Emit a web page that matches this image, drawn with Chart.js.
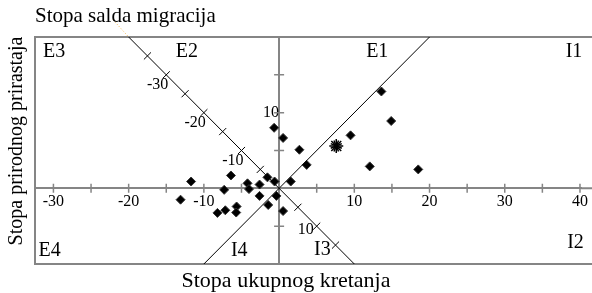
<!DOCTYPE html>
<html lang="sr">
<head>
  <meta charset="UTF-8">
  <title>Stopa salda migracija</title>
  <script src="https://cdn.jsdelivr.net/npm/chart.js"></script>
  <style>
    html, body { margin: 0; padding: 0; background: #fff; }
    #wrap { width: 592px; height: 293px; }
  </style>
</head>
<body>
  <div id="wrap"><canvas id="chart" width="592" height="293"></canvas></div>

  <script>
    // naslovi osa
    const topTitle = 'Stopa salda migracija';
    const yTitle = 'Stopa prirodnog prirastaja';
    const xTitle = 'Stopa ukupnog kretanja';

    // opstine (tacke)
    const ptX = [-0.66, 0.53, 2.7, 3.67, 1.55, -0.6, -1.55, -2.6, -4.2, -4.0, -6.4, -7.3, -11.7, -13.1,
                 -2.6, -0.36, -1.45, 0.53, -5.65, -5.7, -7.15, -8.2, 13.6, 14.9, 9.5, 12.05, 18.5];
    const ptY = [8.0, 6.66, 5.1, 3.1, 0.9, 0.9, 1.45, 0.5, 0.66, -0.1, 1.7, -0.2, 0.9, -1.5,
                 -1.0, -1.0, -2.2, -3.0, -2.4, -3.2, -2.9, -3.25, 12.8, 8.9, 7.0, 2.9, 2.5];
    // prosek (zvezdica)
    const starX = [7.6];
    const starY = [5.6];

    // tick labele
    const xTickLabels = [-30, -20, -10, 10, 20, 30, 40];
    const yTickLabels = [10];
    // skala ukupnog kretanja na dijagonali (x - y)
    const diagTicks = [-35, -30, -25, -20, -15, -10, -5, 5, 10, 15];
    const diagLabels = [-30, -20, -10, 10];

    // tipovi (zone)
    const zoneNames = ['E3', 'E2', 'E1', 'I1', 'E4', 'I4', 'I3', 'I2'];
    const zoneX = [-29.9, -12.25, 13.05, 39.2, -30.5, -5.3, 5.76, 39.4];
    const zoneY = [18.0, 18.0, 18.0, 18.0, -8.2, -8.2, -8.1, -7.24];

    const serif = '"Liberation Serif", "Times New Roman", serif';

    const pts = ptX.map((x, i) => ({ x, y: ptY[i] }));
    const star = starX.map((x, i) => ({ x, y: starY[i] }));
    const diagPts = diagTicks.map(t => ({ x: t / 2, y: -t / 2 }));

    const extras = {
      id: 'extras',
      beforeDatasetsDraw(chart) {
        const { ctx, chartArea: a, scales: { x, y } } = chart;
        const x0 = x.getPixelForValue(0), y0 = y.getPixelForValue(0);
        const w = chart.width;
        ctx.save();
        ctx.strokeStyle = '#858585';
        ctx.lineWidth = 2;
        ctx.beginPath();
        ctx.moveTo(w, a.top);
        ctx.lineTo(a.left, a.top);
        ctx.lineTo(a.left, a.bottom);
        ctx.lineTo(w, a.bottom);
        ctx.moveTo(a.right, y0);
        ctx.lineTo(w, y0);
        ctx.stroke();
        // crtice na osama
        ctx.lineWidth = 1.5;
        ctx.beginPath();
        x.ticks.forEach(t => {
          if (t.value === 0) return;
          const px = x.getPixelForValue(t.value);
          ctx.moveTo(px, y0 - 4.5); ctx.lineTo(px, y0 + 4.5);
        });
        y.ticks.forEach(t => {
          if (t.value === 0 || t.value === y.min || t.value === y.max) return;
          const py = y.getPixelForValue(t.value);
          ctx.moveTo(x0 - 5, py); ctx.lineTo(x0 + 5, py);
        });
        ctx.stroke();
        ctx.restore();
      },
      afterDraw(chart) {
        const { ctx, scales: { x, y } } = chart;
        ctx.save();
        ctx.fillStyle = '#000';
        // dijagonalne labele
        ctx.font = '16px ' + serif;
        ctx.textAlign = 'right';
        ctx.textBaseline = 'middle';
        diagLabels.forEach(t => {
          const px = x.getPixelForValue(t / 2), py = y.getPixelForValue(-t / 2);
          ctx.fillText(String(t), t < 0 ? px + 2 : px - 3, t < 0 ? py + 10 : py + 4);
        });
        // zone
        ctx.font = '20px ' + serif;
        ctx.textAlign = 'center';
        zoneNames.forEach((n, i) => {
          ctx.fillText(n, x.getPixelForValue(zoneX[i]), y.getPixelForValue(zoneY[i]));
        });
        // naslovi
        ctx.textBaseline = 'alphabetic';
        ctx.textAlign = 'left';
        ctx.font = '21px ' + serif;
        ctx.fillText(topTitle, 35, 22);
        ctx.textAlign = 'center';
        ctx.font = '22px ' + serif;
        ctx.fillText(xTitle, 286, 287);
        ctx.font = '20px ' + serif;
        ctx.translate(22, 141);
        ctx.rotate(-Math.PI / 2);
        ctx.fillText(yTitle, 0, 0);
        ctx.restore();
      }
    };

    new Chart(document.getElementById('chart'), {
      type: 'scatter',
      data: {
        datasets: [
          {
            data: [{ x: -10, y: -10 }, { x: 20, y: 20 }],
            showLine: true, borderColor: '#000', borderWidth: 1, pointRadius: 0
          },
          {
            data: [{ x: -20, y: 20 }, { x: 10, y: -10 }],
            showLine: true, borderColor: '#000', borderWidth: 1, pointRadius: 0
          },
          {
            data: [{ x: -22.1, y: 22.3 }, { x: -20, y: 20 }],
            showLine: true, borderColor: '#f3b54a', borderWidth: 1, borderDash: [1, 2],
            pointRadius: 0, clip: false
          },
          {
            data: diagPts,
            pointStyle: 'line', rotation: -45, pointRadius: 5,
            borderColor: '#000', borderWidth: 1
          },
          {
            data: pts,
            pointStyle: 'rectRot', pointRadius: 4.5,
            backgroundColor: '#000', borderColor: '#333', borderWidth: 1
          },
          {
            data: star,
            pointStyle: 'star', pointRadius: 7,
            borderColor: '#000', borderWidth: 1.5
          },
          {
            data: star,
            pointStyle: 'star', pointRadius: 6, rotation: 22.5,
            borderColor: '#000', borderWidth: 1.5
          }
        ]
      },
      options: {
        responsive: false,
        animation: false,
        events: [],
        layout: { padding: { left: 35, top: 37, right: 0, bottom: 29 } },
        plugins: { legend: { display: false }, tooltip: { enabled: false }, title: { display: false } },
        scales: {
          x: {
            type: 'linear', min: -32.45, max: 40.15,
            position: { y: 0 },
            grid: { display: true, drawOnChartArea: false, drawTicks: false },
            border: { color: '#858585', width: 2 },
            ticks: {
              stepSize: 5, includeBounds: false, autoSkip: false, maxRotation: 0, padding: 4, color: '#000',
              font: { family: serif, size: 16 },
              callback: v => xTickLabels.includes(v) ? String(v) : ''
            }
          },
          y: {
            type: 'linear', min: -10, max: 20,
            position: { x: 0 },
            grid: { display: true, drawOnChartArea: false, drawTicks: false },
            border: { color: '#858585', width: 2 },
            ticks: {
              stepSize: 5, autoSkip: false, padding: 6, color: '#000',
              font: { family: serif, size: 16 },
              callback: v => yTickLabels.includes(v) ? String(v) : ''
            }
          }
        }
      },
      plugins: [extras]
    });
  </script>
</body>
</html>
